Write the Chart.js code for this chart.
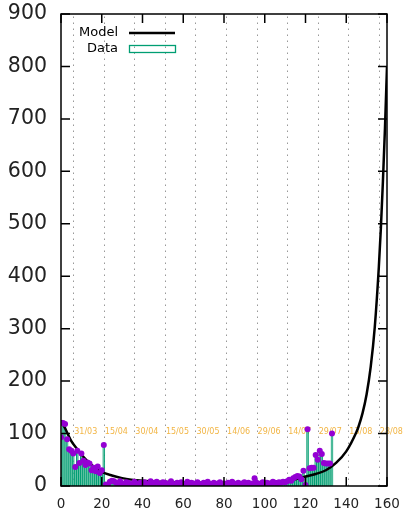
<!DOCTYPE html>
<html><head><meta charset="utf-8">
<script src="https://cdn.jsdelivr.net/npm/chart.js@4/dist/chart.umd.min.js"></script>
<style>html,body{margin:0;padding:0;background:#fff}#w{width:404px;height:519px;position:relative}</style>
</head><body><div id="w"><canvas id="c"></canvas></div>
<script>
// Daily data values, day 0 .. 133
const dataValues = [
  93,120,118,89,70,67,62,36,67,44,62,48,40,45,43,30,35,28,37,25,30,78,
  3,2,8,10,9,6,4,9,5,3,7,6,2,4,8,3,5,6,2,7,4,3,9,5,6,8,4,2,7,6,3,5,9,4,2,6,5,7,3,4,8,2,6,5,3,7,4,2,6,5,8,3,
  4,6,3,5,7,2,5,4,6,3,8,5,4,6,3,5,7,4,6,3,5,
  15,
  6,4,5,7,3,6,5,4,8,6,5,7,6,8,7,
  9,12,10,15,17,19,18,13,29,2,108,34,35,35,59,50,67,61,44,43,43,43,100
];
// Model curve samples
const modelDays   = [0,2,5,8,10,15,20,25,30,40,50,60,70,80,90,100,110,115,120,125,130,135,140,145,146,148,150,152,154,156,157,158,159,160];
const modelValues = [125,110,86,70,60,40,27,20,15,10,8,7,6,6,6,7,10,13,18,23,30,44,66,103,113,139,175,227,303,418,492,581,682,800];
// Date markers
const dateDays   = [6,21,36,51,66,81,96,111,126,141,156];
const dateLabels = ['31/03','15/04','30/04','15/05','30/05','14/06','29/06','14/07','29/07','13/08','28/08'];
const dateLabelValue = 103;
// Axes
const xMin = 0, xMax = 160, xStep = 20;
const yMin = 0, yMax = 900, yStep = 100;

const FONT = '"DejaVu Sans", sans-serif';

const gnuplotDeco = {
  id: 'gnuplotDeco',
  beforeDatasetsDraw(chart) {
    const {ctx, chartArea: a, scales: {x, y}} = chart;
    ctx.save();
    ctx.strokeStyle = '#999';
    ctx.lineWidth = 1;
    ctx.setLineDash([1.5, 4.5]);
    dateDays.forEach(d => {
      const px = Math.round(x.getPixelForValue(d)) + 0.5;
      ctx.beginPath(); ctx.moveTo(px, a.bottom); ctx.lineTo(px, a.top); ctx.stroke();
    });
    ctx.setLineDash([]);
    ctx.fillStyle = '#f2b544';
    ctx.font = '8px ' + FONT;
    ctx.textAlign = 'left'; ctx.textBaseline = 'middle';
    dateDays.forEach((d, i) => {
      ctx.fillText(dateLabels[i], x.getPixelForValue(d) + 1, y.getPixelForValue(dateLabelValue));
    });
    ctx.restore();
  },
  afterDatasetsDraw(chart) {
    const {ctx, chartArea: a, scales: {x, y}} = chart;
    ctx.save();
    ctx.strokeStyle = '#000';
    ctx.lineWidth = 1.5;
    const L = 9;
    x.ticks.forEach(t => {
      const px = x.getPixelForValue(t.value);
      ctx.beginPath();
      ctx.moveTo(px, a.bottom); ctx.lineTo(px, a.bottom - L);
      ctx.moveTo(px, a.top); ctx.lineTo(px, a.top + L);
      ctx.stroke();
    });
    y.ticks.forEach(t => {
      const py = y.getPixelForValue(t.value);
      ctx.beginPath();
      ctx.moveTo(a.left, py); ctx.lineTo(a.left + L, py);
      ctx.moveTo(a.right, py); ctx.lineTo(a.right - L, py);
      ctx.stroke();
    });
    ctx.strokeRect(a.left, a.top, a.right - a.left, a.bottom - a.top);
    ctx.restore();
  },
  afterDraw(chart) {
    const {ctx} = chart;
    ctx.save();
    ctx.font = '13px ' + FONT;
    ctx.fillStyle = '#000';
    ctx.textAlign = 'right'; ctx.textBaseline = 'middle';
    ctx.fillText('Model', 118, 33);
    ctx.fillText('Data', 118, 49);
    ctx.strokeStyle = '#000'; ctx.lineWidth = 2.5;
    ctx.beginPath(); ctx.moveTo(129, 33); ctx.lineTo(175, 33); ctx.stroke();
    ctx.strokeStyle = '#009e73'; ctx.lineWidth = 1.3;
    ctx.strokeRect(129.5, 45.5, 46, 7);
    ctx.restore();
  }
};

new Chart(document.getElementById('c'), {
  type: 'bar',
  data: {
    datasets: [
      {
        type: 'line',
        label: 'points',
        data: dataValues.map((v, i) => ({x: i, y: v})),
        showLine: false,
        pointRadius: 3,
        pointBackgroundColor: '#9400d3',
        pointBorderWidth: 0,
        order: 0
      },
      {
        type: 'line',
        label: 'Model',
        data: modelDays.map((d, i) => ({x: d, y: modelValues[i]})),
        borderColor: '#000',
        borderWidth: 2.5,
        pointRadius: 0,
        cubicInterpolationMode: 'monotone',
        fill: false,
        order: 1
      },
      {
        type: 'bar',
        label: 'Data',
        data: dataValues.map((v, i) => ({x: i, y: v})),
        backgroundColor: '#3fb58e',
        borderColor: '#009e73',
        borderWidth: 1,
        barPercentage: 1,
        categoryPercentage: 1,
        order: 2
      }
    ]
  },
  options: {
    responsive: true,
    maintainAspectRatio: false,
    animation: false,
    layout: {padding: {left: 0, right: 17, top: 14, bottom: 0}},
    plugins: {legend: {display: false}, tooltip: {enabled: false}},
    scales: {
      x: {
        type: 'linear', min: xMin, max: xMax, offset: false,
        grid: {display: false, drawTicks: false},
        border: {display: false},
        ticks: {stepSize: xStep, color: '#222', font: {family: FONT, size: 13.5}, padding: 10, maxRotation: 0},
        afterFit(s) { s.height = 33; s.paddingLeft = 0; s.paddingRight = 0; s.paddingTop = 0; s.paddingBottom = 0; }
      },
      y: {
        min: yMin, max: yMax,
        grid: {display: false, drawTicks: false},
        border: {display: false},
        ticks: {stepSize: yStep, color: '#222', font: {family: FONT, size: 20.5}, padding: 14},
        afterFit(s) { s.width = 61; s.paddingLeft = 0; s.paddingRight = 0; s.paddingTop = 0; s.paddingBottom = 0; }
      }
    }
  },
  plugins: [gnuplotDeco]
});
</script>
</body></html>
